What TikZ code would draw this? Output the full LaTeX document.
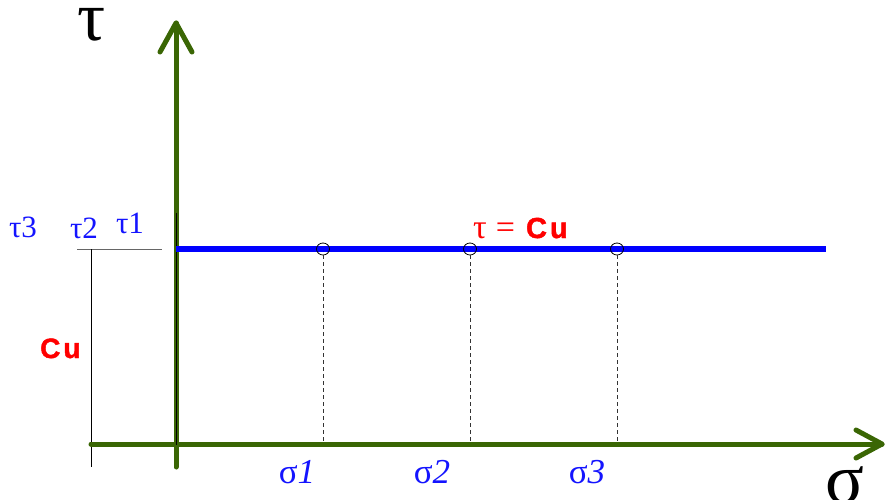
\documentclass[tikz,border=0pt]{standalone}
\usepackage{fontspec}
\usetikzlibrary{shapes.geometric}
\setmainfont{Liberation Serif}
\newfontfamily\sansb{Liberation Sans}[BoldFeatures={FakeBold=1.6}]
\definecolor{axisgreen}{RGB}{58,102,4}
\definecolor{lblue}{RGB}{20,20,255}
\begin{document}
\begin{tikzpicture}[x=1pt,y=-1pt,
  axis/.style={draw=axisgreen,line width=5pt,line cap=round,line join=round},
  thinline/.style={draw=black,line width=1pt},
  guide/.style={draw=black!80,line width=0.9pt,dash pattern=on 4pt off 3pt},
  bluelbl/.style={text=lblue,font=\fontsize{31}{33}\selectfont,inner sep=0pt,anchor=base},
  siglbl/.style={text=lblue,font=\fontsize{35}{37}\selectfont,inner sep=0pt,anchor=base},
  cul/.style={text=red,inner sep=0pt},
  ptmark/.style={draw=black,line width=0.8pt,ellipse,minimum width=13pt,minimum height=12pt,inner sep=0pt}]
\useasboundingbox (0,0) rectangle (885,499);
% coordinates
\coordinate (vbot) at (176,467);
\coordinate (vtop) at (176,23);
\coordinate (vl) at (160,52);
\coordinate (vr) at (192,52);
\coordinate (hleft) at (91,444);
\coordinate (hright) at (882,444);
\coordinate (hu) at (856,430);
\coordinate (hd) at (856,458);
\coordinate (b0) at (176,249);
\coordinate (b1) at (826,249);
\coordinate (g0) at (77,249);
\coordinate (g1) at (162,249);
\coordinate (k0) at (91,249);
\coordinate (k1) at (91,467);
\coordinate (t0) at (176,213);
\coordinate (t1) at (176,445);
\coordinate (d1) at (323,444);
\coordinate (d2) at (470,444);
\coordinate (d3) at (617,444);
% thin lines
\draw[draw=black!60,line width=1pt] (g0) -- (g1);
\draw[thinline] (k0) -- (k1);
% axes
\draw[axis] (vbot) -- (vtop);
\draw[axis] (vl) -- (vtop) -- (vr);
\draw[axis] (hleft) -- (hright);
\draw[axis] (hu) -- (hright) -- (hd);
\draw[thinline] (t0) -- (t1);
% blue line
\draw[draw=blue,line width=5.5pt] (b0) -- (b1);
% marks and dashed guides
\node[ptmark] (m1) at (323,249) {};
\node[ptmark] (m2) at (470,249) {};
\node[ptmark] (m3) at (617,249) {};
\draw[guide] (m1.south) -- (d1);
\draw[guide] (m2.south) -- (d2);
\draw[guide] (m3.south) -- (d3);
% labels
\node[inner sep=0pt,anchor=base,font=\fontsize{70}{72}\selectfont] (tau) at (92,40) {τ};
\node[inner sep=0pt,anchor=base,font=\fontsize{72}{74}\selectfont] (sig) at (845,503) {σ};
\node[bluelbl] (tau3) at (23,237) {τ3};
\node[bluelbl] (tau2) at (84,238) {τ2};
\node[bluelbl] (tau1) at (130,233) {τ1};
\node[cul,anchor=base west,font=\sansb\bfseries\fontsize{28}{30}\selectfont] (cu) at (40,358) {C\kern3pt u};
\node[cul,anchor=base west] (eq) at (473,238) {\fontsize{34}{36}\selectfont τ\hspace{9pt}=\hspace{11pt}\sansb\bfseries\fontsize{29}{31}\selectfont C\kern3pt u};
\node[siglbl] (s1) at (297,483) {σ\textit{1}};
\node[siglbl] (s2) at (432,483) {σ\textit{2}};
\node[siglbl] (s3) at (587,483) {σ\textit{3}};
\end{tikzpicture}
\end{document}
